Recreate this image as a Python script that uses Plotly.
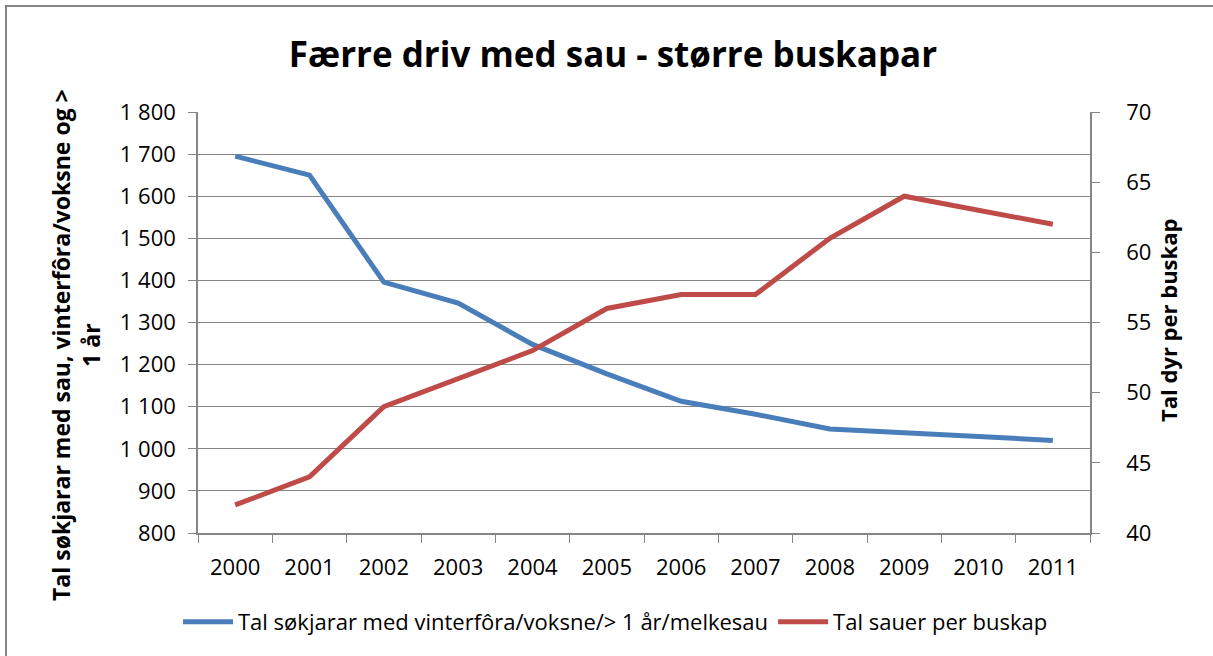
import plotly.graph_objects as go

years = ["2000","2001","2002","2003","2004","2005","2006","2007","2008","2009","2010","2011"]
applicants = [1695, 1650, 1396, 1346, 1248, 1178, 1113, 1082, 1047, 1038, 1031, 1020]
sheep_per_herd = [42, 44, 49, 51, 53, 56, 57, 57, 61, 64, 63, 62]
left_ticks = [800, 900, 1000, 1100, 1200, 1300, 1400, 1500, 1600, 1700, 1800]
left_tick_text = ["800", "900", "1 000", "1 100", "1 200", "1 300", "1 400", "1 500", "1 600", "1 700", "1 800"]
right_ticks = [40, 45, 50, 55, 60, 65, 70]

FONT = "Open Sans"
xpos = list(range(len(years)))

# plot area in pixels
L, R, T, B = 198, 1090, 112, 533
PW, PH = R - L, B - T

def px(x):
    return (x - L) / PW

def py(y):
    return (B - y) / PH

fig = go.Figure()
fig.add_trace(go.Scatter(x=xpos, y=applicants, mode="lines",
                         name="Tal søkjarar med vinterfôra/voksne/> 1 år/melkesau",
                         line=dict(color="#4A7EBB", width=5)))
fig.add_trace(go.Scatter(x=xpos, y=sheep_per_herd, mode="lines", yaxis="y2",
                         name="Tal sauer per buskap",
                         line=dict(color="#BE4B48", width=5)))

axcol = "#868686"
fig.update_layout(
    width=1213, height=656,
    margin=dict(l=L, r=1213 - R, t=T, b=656 - B),
    paper_bgcolor="white", plot_bgcolor="white",
    font=dict(family=FONT, color="black", size=22),
    title=dict(text="<b>Færre driv med sau - større buskapar</b>", x=613/1213, xanchor="center",
               y=1 - 55/656, yanchor="middle", font=dict(size=35, family=FONT)),
    xaxis=dict(range=[-0.5, 11.5], tickvals=xpos, ticktext=years, ticks="",
               showline=True, linecolor=axcol, linewidth=1.5, showgrid=False, zeroline=False,
               tickfont=dict(size=22), ticklabelstandoff=14, automargin=False,
               minor=dict(tick0=-0.5, dtick=1, ticks="outside", ticklen=8, tickcolor=axcol, showgrid=False)),
    yaxis=dict(range=[800, 1800], tickvals=left_ticks, ticktext=left_tick_text,
               ticks="outside", ticklen=8, tickcolor=axcol, automargin=False,
               showline=True, linecolor=axcol, linewidth=1.5, ticklabelstandoff=8,
               showgrid=True, gridcolor=axcol, gridwidth=1.2, zeroline=False,
               tickfont=dict(size=22)),
    yaxis2=dict(range=[40, 70], tickvals=right_ticks, overlaying="y", side="right",
                ticks="outside", ticklen=8, tickcolor=axcol, automargin=False,
                showline=True, linecolor=axcol, linewidth=1.5, showgrid=False, zeroline=False,
                tickfont=dict(size=22), ticklabelstandoff=22),
    legend=dict(orientation="h", x=px(615.5), xanchor="center", y=py(622), yanchor="middle",
                font=dict(size=22), itemwidth=50, tracegroupgap=0),
    showlegend=True,
    annotations=[
        dict(text="<b>Tal søkjarar med sau, vinterfôra/voksne og ><br>1 år</b>",
             xref="paper", yref="paper", x=px(76), y=py(345), xanchor="center", yanchor="middle",
             textangle=-90, showarrow=False, font=dict(size=23)),
        dict(text="<b>Tal dyr per buskap</b>",
             xref="paper", yref="paper", x=px(1168), y=py(321), xanchor="center", yanchor="middle",
             textangle=-90, showarrow=False, font=dict(size=22)),
    ],
    shapes=[dict(type="rect", xref="paper", yref="paper",
                 x0=px(6), x1=px(1240), y0=py(700), y1=py(6),
                 line=dict(color=axcol, width=2), fillcolor="rgba(0,0,0,0)", layer="below")]
)

fig.write_html("out.html", config={"displayModeBar": False},
               post_script="document.body.style.margin='0';document.body.style.padding='0';")
